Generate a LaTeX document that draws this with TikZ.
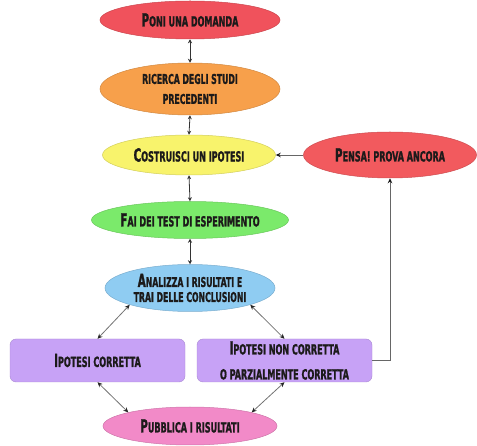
\documentclass[tikz,border=0pt]{standalone}
\usepackage{fontspec}
\usetikzlibrary{shapes.geometric,arrows.meta}
\newfontfamily\hand[FakeStretch=0.64,FakeBold=1.2]{DejaVu Sans Condensed}
\newcommand\bigini[1]{{\fontsize{18}{18}\selectfont #1}}

\definecolor{cponi}{HTML}{F0525C}
\definecolor{cric}{HTML}{F7A04B}
\definecolor{ccos}{HTML}{F8F36C}
\definecolor{cfai}{HTML}{7BEA6B}
\definecolor{cana}{HTML}{8FCCF2}
\definecolor{cpen}{HTML}{F25A5E}
\definecolor{cbox}{HTML}{C7A2F6}
\definecolor{cpub}{HTML}{F28AC8}
\definecolor{ctext}{HTML}{1C1A1A}

\tikzset{
  label font/.style={font=\hand\bfseries\fontsize{14}{20}\selectfont, text=ctext, align=center},
  oval/.style={ellipse, label font, inner sep=0pt, minimum width=173pt, minimum height=40pt,
    fill=#1, draw=#1!85!black, line width=0.5pt},
  panel/.style={rectangle, rounded corners=6pt, label font, inner sep=0pt,
    minimum width=175pt, minimum height=43pt, fill=cbox, draw=cbox!85!black, line width=0.4pt},
  dbl/.style={line width=0.8pt, draw=black!80, {Stealth[length=4pt,width=4pt]}-{Stealth[length=4pt,width=4pt]}},
  diag/.style={line width=0.8pt, draw=black!55, {Stealth[length=5pt,width=4.5pt,color=black!85]}-{Stealth[length=5pt,width=4.5pt,color=black!85]}},
  one/.style={line width=0.8pt, draw=black!60, -{Stealth[length=5pt,width=4.5pt,color=black!90]}}
}

\begin{document}
\begin{tikzpicture}[x=1pt,y=-1pt]
\useasboundingbox (0,0) rectangle (477,446);

\node[oval=cponi, minimum width=180pt, minimum height=38pt] (poni) at (190,20)
  {\bigini{P}ONI UNA DOMANDA};
\node[oval=cric, minimum width=180pt, minimum height=52pt, font=\hand\bfseries\fontsize{13.5}{20}\selectfont] (ric) at (190,89)
  {RICERCA DEGLI STUDI\\PRECEDENTI};
\node[oval=ccos] (cos) at (189,155)
  {\bigini{C}OSTRUISCI UN IPOTESI};
\node[oval=cfai, minimum width=176pt, minimum height=37pt] (fai) at (190,220)
  {\bigini{F}AI DEI TEST DI ESPERIMENTO};
\node[oval=cana, minimum width=170pt, minimum height=47pt, font=\hand\bfseries\fontsize{13.5}{15}\selectfont] (ana) at (190,288)
  {\bigini{A}NALIZZA I RISULTATI E\\TRAI DELLE CONCLUSIONI};
\node[oval=cpen, minimum height=46pt] (pen) at (390,155)
  {\bigini{P}ENSA! PROVA ANCORA};
\node[panel] (lbox) at (97.5,360.5)
  {\bigini{I}POTESI CORRETTA};
\node[panel, font=\hand\bfseries\fontsize{14}{25}\selectfont] (rbox) at (284.5,360.5)
  {\bigini{I}POTESI NON CORRETTA\\O PARZIALMENTE CORRETTA};
\node[oval=cpub, minimum width=174pt, minimum height=38pt] (pub) at (190,426)
  {\bigini{P}UBBLICA I RISULTATI};

% main chain
\draw[dbl] (poni.south) -- (ric.north);
\draw[dbl] (ric.south) -- (cos.north);
\draw[dbl] (cos.south) -- (fai.north);
\draw[dbl] (fai.south) -- (ana.north);

% branches
\draw[diag] (ana.south west) -- (lbox.north);
\draw[diag] (ana.south east) -- (rbox.north);
\draw[diag] (lbox.south) -- (pub.north west);
\draw[diag] (rbox.south) -- (pub.north east);

% feedback loop
\draw[one] (rbox.east) -- (rbox.east -| pen.south) -- (pen.south);
\draw[one] (pen.west) -- (cos.east);
\end{tikzpicture}
\end{document}
